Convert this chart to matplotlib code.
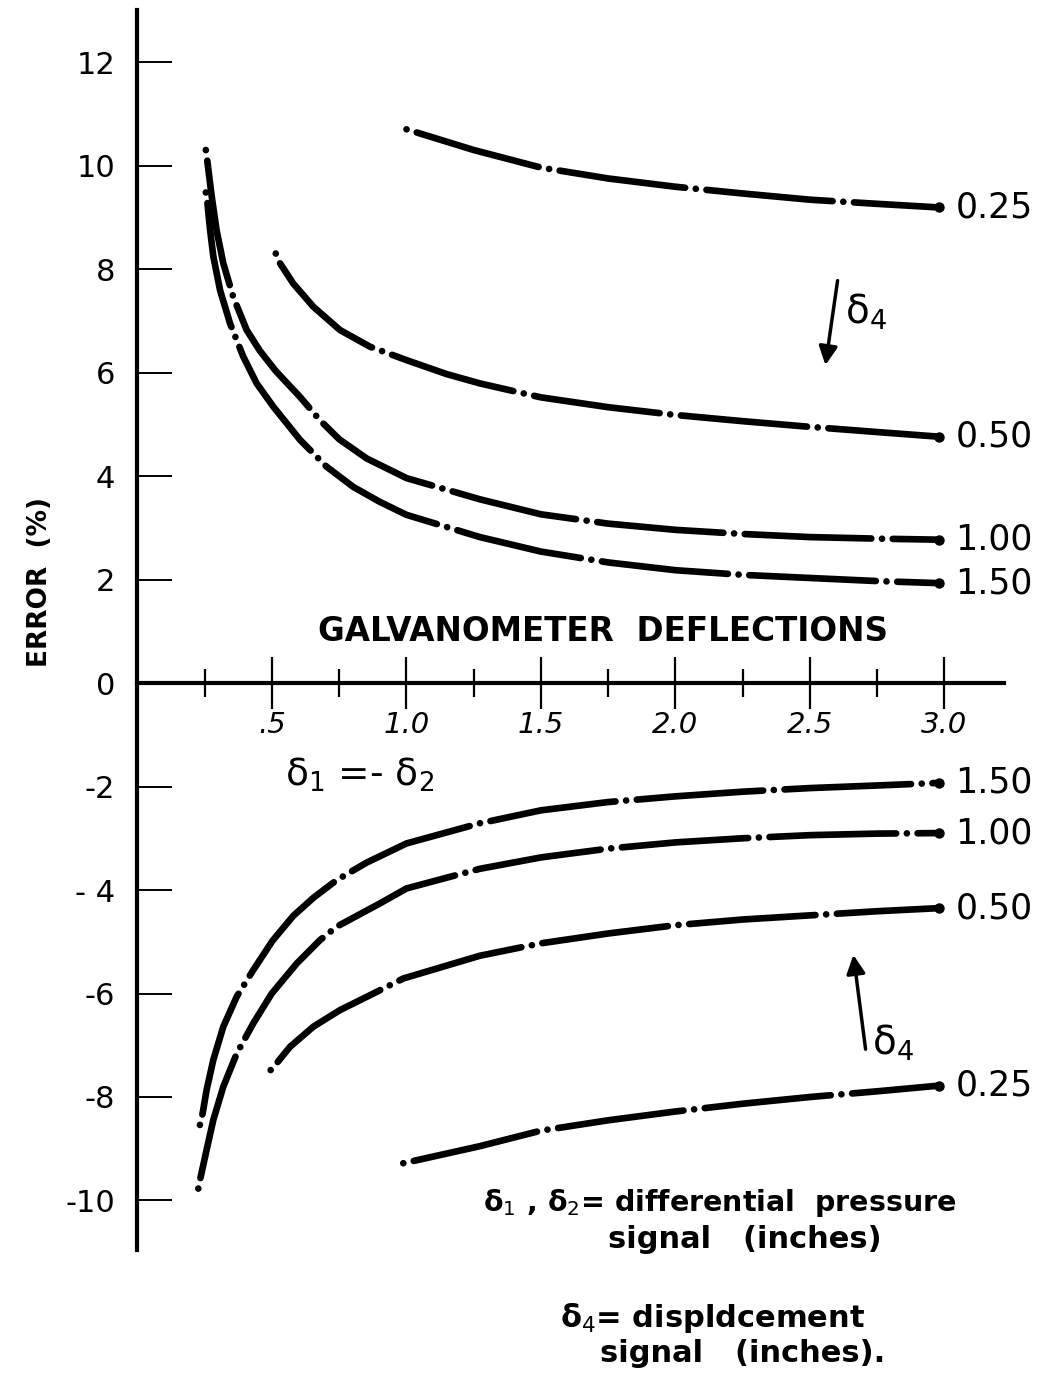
import matplotlib
matplotlib.use("Agg")
import matplotlib.pyplot as plt

plt.rcParams['font.family'] = ['DejaVu Sans']
plt.rcParams['mathtext.fontset'] = 'dejavusans'

# ---------------- data ----------------
# upper family (positive error), delta4 = 0.25, 0.50, 1.00, 1.50
up_025_x = [1.00, 1.25, 1.50, 1.75, 2.00, 2.25, 2.50, 2.75, 2.98]
up_025_y = [10.70, 10.30, 9.96, 9.75, 9.59, 9.46, 9.34, 9.26, 9.19]

up_050_x = [0.514, 0.53, 0.579, 0.654, 0.753, 0.864, 1.00, 1.149, 1.273, 1.50, 1.75, 2.00, 2.25, 2.50, 2.75, 2.98]
up_050_y = [8.30, 8.11, 7.72, 7.27, 6.82, 6.50, 6.24, 5.97, 5.79, 5.52, 5.33, 5.18, 5.06, 4.95, 4.85, 4.76]

up_100_x = [0.254, 0.259, 0.276, 0.294, 0.319, 0.356, 0.406, 0.455, 0.514, 0.604, 0.678, 0.750, 0.852, 1.00, 1.273,
            1.50, 1.75, 2.00, 2.25, 2.50, 2.75, 2.98]
up_100_y = [10.30, 10.11, 9.40, 8.75, 8.11, 7.46, 6.82, 6.42, 6.03, 5.53, 5.08, 4.71, 4.34, 3.96, 3.55,
            3.26, 3.08, 2.96, 2.88, 2.82, 2.79, 2.77]

up_150_x = [0.254, 0.260, 0.270, 0.282, 0.307, 0.344, 0.393, 0.443, 0.505, 0.604, 0.703, 0.802, 0.901, 1.00, 1.273,
            1.50, 1.75, 2.00, 2.25, 2.50, 2.75, 2.98]
up_150_y = [9.48, 9.27, 8.75, 8.24, 7.59, 6.95, 6.31, 5.79, 5.34, 4.70, 4.18, 3.79, 3.50, 3.25, 2.82,
            2.54, 2.33, 2.18, 2.09, 2.03, 1.97, 1.93]

# lower family (negative error)
lo_150_x = [0.232, 0.242, 0.257, 0.282, 0.319, 0.369, 0.430, 0.502, 0.579, 0.654, 0.740, 0.852, 1.00, 1.273,
            1.50, 1.75, 2.00, 2.25, 2.50, 2.75, 2.98]
lo_150_y = [-8.54, -8.32, -7.86, -7.28, -6.64, -6.06, -5.55, -4.98, -4.50, -4.15, -3.81, -3.47, -3.10, -2.71,
            -2.46, -2.30, -2.19, -2.10, -2.03, -1.98, -1.93]

lo_100_x = [0.226, 0.235, 0.257, 0.282, 0.319, 0.369, 0.430, 0.499, 0.592, 0.678, 0.740, 0.901, 1.00, 1.273,
            1.50, 1.75, 2.00, 2.25, 2.50, 2.75, 2.98]
lo_100_y = [-9.77, -9.54, -9.02, -8.44, -7.80, -7.16, -6.58, -6.00, -5.42, -4.97, -4.71, -4.26, -3.97, -3.59,
            -3.37, -3.20, -3.08, -3.00, -2.94, -2.91, -2.90]

lo_050_x = [0.495, 0.517, 0.567, 0.654, 0.753, 0.877, 0.988, 1.273, 1.50, 1.75, 2.00, 2.25, 2.50, 2.75, 2.98]
lo_050_y = [-7.48, -7.35, -7.03, -6.64, -6.32, -6.00, -5.71, -5.27, -5.03, -4.84, -4.68, -4.57, -4.49, -4.41, -4.35]

lo_025_x = [0.988, 1.273, 1.50, 1.75, 2.00, 2.25, 2.50, 2.75, 2.98]
lo_025_y = [-9.28, -8.95, -8.65, -8.45, -8.28, -8.13, -8.00, -7.89, -7.78]

upper_labels = ["0.25", "0.50", "1.00", "1.50"]
lower_labels = ["1.50", "1.00", "0.50", "0.25"]

x_ticks_major = [0.5, 1.0, 1.5, 2.0, 2.5, 3.0]
x_ticklabels = [".5", "1.0", "1.5", "2.0", "2.5", "3.0"]
x_ticks_minor = [0.25, 0.75, 1.25, 1.75, 2.25, 2.75]
y_ticks = [12, 10, 8, 6, 4, 2, 0, -2, -4, -6, -8, -10]
y_ticklabels = ["12", "10", "8", "6", "4", "2", "0", "-2", "- 4", "-6", "-8", "-10"]

# ---------------- figure ----------------
fig = plt.figure(figsize=(10.48, 13.74), dpi=100)
ax = fig.add_axes([0.1312, 0.0905, 0.8265, 0.902])
ax.set_xlim(0, 3.22)
ax.set_ylim(-10.95, 13.0)

for s in ('top', 'right'):
    ax.spines[s].set_visible(False)
ax.spines['left'].set_position(('data', 0))
ax.spines['left'].set_linewidth(3.0)
ax.spines['bottom'].set_position(('data', 0))
ax.spines['bottom'].set_linewidth(3.0)

ax.set_xticks(x_ticks_major)
ax.set_xticklabels(x_ticklabels, fontsize=21, style='italic')
ax.set_xticks(x_ticks_minor, minor=True)
ax.tick_params(axis='x', which='major', direction='inout', length=37, width=1.6, pad=2)
ax.tick_params(axis='x', which='minor', direction='inout', length=20, width=1.6)

ax.set_yticks(y_ticks)
ax.set_yticklabels(y_ticklabels, fontsize=22)
ax.tick_params(axis='y', which='major', direction='in', length=25, width=1.4, pad=16)

curve_kw = dict(color='black', lw=4.8, dashes=[0.01, 1.6, 19, 1.6],
                dash_capstyle='round', solid_capstyle='round')

upper = [(up_025_x, up_025_y), (up_050_x, up_050_y), (up_100_x, up_100_y), (up_150_x, up_150_y)]
lower = [(lo_150_x, lo_150_y), (lo_100_x, lo_100_y), (lo_050_x, lo_050_y), (lo_025_x, lo_025_y)]

for (xs, ys), lab in list(zip(upper, upper_labels)) + list(zip(lower, lower_labels)):
    ax.plot(xs, ys, **curve_kw)
    ax.plot([xs[-1]], [ys[-1]], 'o', color='black', ms=6.5)
    ax.text(xs[-1] + 0.06, ys[-1], lab, fontsize=25, ha='left', va='center')

# arrows and delta_4 annotations
ax.annotate('', xy=(2.556, 6.09), xytext=(2.604, 7.83),
            arrowprops=dict(arrowstyle='-|>', lw=2.5, color='black', mutation_scale=28))
ax.text(2.63, 7.17, 'δ$_4$', fontsize=28, ha='left', va='center')
ax.annotate('', xy=(2.66, -5.20), xytext=(2.708, -7.13),
            arrowprops=dict(arrowstyle='-|>', lw=2.5, color='black', mutation_scale=28))
ax.text(2.73, -6.95, 'δ$_4$', fontsize=28, ha='left', va='center')

ax.text(1.73, 0.99, 'GALVANOMETER  DEFLECTIONS', fontsize=23.5, fontweight='bold',
        ha='center', va='center')
ax.text(0.548, -1.78, 'δ$_1$ =- δ$_2$', fontsize=27, ha='left', va='center')

fig.text(0.038, 1 - 582 / 1374, 'ERROR  (%)', rotation=90, fontsize=19, fontweight='bold',
         ha='center', va='center')

fig.text(483 / 1048, 1 - 1203 / 1374, 'δ$_1$ , δ$_2$= differential  pressure',
         fontsize=20.5, fontweight='bold', ha='left', va='center')
fig.text(745 / 1048, 1 - 1240 / 1374, 'signal   (inches)', fontsize=22, fontweight='bold',
         ha='center', va='center')
fig.text(560 / 1048, 1 - 1318 / 1374, 'δ$_4$= displdcement', fontsize=22,
         fontweight='bold', ha='left', va='center')
fig.text(743 / 1048, 1 - 1353 / 1374, 'signal   (inches).', fontsize=22, fontweight='bold',
         ha='center', va='center')

fig.savefig('out.png', dpi=100)
